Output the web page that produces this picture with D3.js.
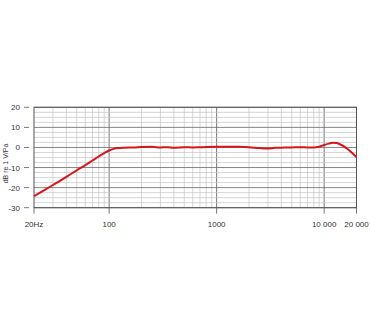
<!DOCTYPE html>
<html>
<head>
<meta charset="utf-8">
<script src="https://cdn.jsdelivr.net/npm/d3@7"></script>
<style>
  body { margin: 0; background: #fff; }
  svg text { font-family: "Liberation Sans", Arial, sans-serif; fill: #333; }
</style>
</head>
<body>
<div class="chart"></div>
<script>
const w = 370;
const h = 333;

// frequency response
const freqs = [20, 25, 30, 40, 50, 60, 70, 80, 90, 100, 110, 120, 140, 170, 200, 250, 300, 350, 400, 500, 600, 700, 800, 1000, 1300, 1600, 2000, 2500, 3000, 3500, 4000, 5000, 6000, 7000, 8000, 9000, 10000, 11000, 12000, 13000, 14000, 16000, 18000, 20000];
const levels = [-24.2, -21.2, -18.7, -14.6, -11.4, -8.8, -6.5, -4.5, -2.8, -1.5, -0.7, -0.3, -0.1, 0, 0.2, 0.3, 0, 0.1, -0.1, 0.1, 0, 0.1, 0.2, 0.3, 0.3, 0.3, 0.1, -0.3, -0.5, -0.2, -0.1, 0, 0.1, 0, 0, 0.4, 1.2, 1.9, 2.3, 2.2, 1.6, -0.2, -2.5, -4.8];

const yTicks = [20, 10, 0, -10, -20, -30];
const xTicks = [20, 100, 1000, 10000, 20000];
const xTickLabels = ["20Hz", "100", "1000", "10 000", "20 000"];

const pLeft = 34, pRight = 356.5, pTop = 107.3, pBottom = 207.7;

const svg = d3.select(".chart").append("svg")
    .attr("width", w)
    .attr("height", h);

const x = d3.scaleLog()
    .domain([20, 20000])
    .range([pLeft, pRight]);

const y = d3.scaleLinear()
    .domain([-30, 20])
    .range([pBottom, pTop]);

// vertical grid (log)
const minorX = [];
[10, 100, 1000, 10000].forEach(dec => {
  for (let k = 1; k < 10; k++) {
    const f = dec * k;
    if (f > 20 && f < 20000) minorX.push(f);
  }
});
const isDecade = d => [100, 1000, 10000].includes(d);

svg.append("g").selectAll("line")
    .data(minorX)
    .enter().append("line")
    .attr("x1", d => x(d)).attr("x2", d => x(d))
    .attr("y1", pTop).attr("y2", pBottom)
    .attr("stroke", d => isDecade(d) ? "#666" : "#c4c4c4")
    .attr("stroke-width", d => isDecade(d) ? 0.9 : 0.7);

// horizontal grid every 2.5 dB
const minorY = d3.range(-30, 20.01, 2.5);
svg.append("g").selectAll("line")
    .data(minorY)
    .enter().append("line")
    .attr("x1", pLeft).attr("x2", pRight)
    .attr("y1", d => y(d)).attr("y2", d => y(d))
    .attr("stroke", d => d % 10 === 0 ? "#777" : "#c4c4c4")
    .attr("stroke-width", d => d % 10 === 0 ? 0.9 : 0.7);

// frame
svg.append("rect")
    .attr("x", pLeft).attr("y", pTop)
    .attr("width", pRight - pLeft).attr("height", pBottom - pTop)
    .attr("fill", "none")
    .attr("stroke", "#555")
    .attr("stroke-width", 1);

// y ticks
const yAxis = svg.append("g");
yAxis.selectAll("line")
    .data(yTicks)
    .enter().append("line")
    .attr("x1", pLeft - 10).attr("x2", pLeft - 5)
    .attr("y1", d => y(d)).attr("y2", d => y(d))
    .attr("stroke", "#555").attr("stroke-width", 0.8);
yAxis.selectAll("text")
    .data(yTicks)
    .enter().append("text")
    .attr("x", pLeft - 14)
    .attr("y", d => y(d) + 3)
    .attr("text-anchor", "end")
    .attr("font-size", 8)
    .text(d => d);

svg.append("text")
    .attr("transform", `translate(8,${(pTop + pBottom) / 2 + 6}) rotate(-90)`)
    .attr("text-anchor", "middle")
    .attr("font-size", 7)
    .text("dB re 1 V/Pa");

// x ticks
const xAxis = svg.append("g");
xAxis.selectAll("line")
    .data(xTicks)
    .enter().append("line")
    .attr("x1", d => x(d)).attr("x2", d => x(d))
    .attr("y1", pBottom).attr("y2", pBottom + 6)
    .attr("stroke", "#555").attr("stroke-width", 0.8);
xAxis.selectAll("text")
    .data(xTicks)
    .enter().append("text")
    .attr("x", d => x(d))
    .attr("y", pBottom + 19.5)
    .attr("text-anchor", "middle")
    .attr("font-size", 8)
    .text((d, i) => xTickLabels[i]);

// response curve
const line = d3.line()
    .x(d => x(d[0]))
    .y(d => y(d[1]))
    .curve(d3.curveMonotoneX);

svg.append("path")
    .datum(freqs.map((f, i) => [f, levels[i]]))
    .attr("fill", "none")
    .attr("stroke", "#d9141b")
    .attr("stroke-width", 2)
    .attr("d", line);
</script>
</body>
</html>
